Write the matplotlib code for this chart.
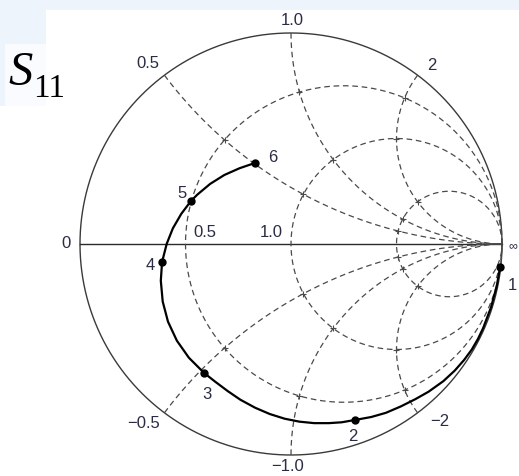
import numpy as np
import matplotlib
matplotlib.use('Agg')
import matplotlib.pyplot as plt
from matplotlib.patches import Rectangle

# 画布尺寸(像素)与圆图位置
W, H = 519, 477
CX, CY, R = 291, 245, 211

# 圆图网格: 电阻圆(与实轴左交点 Γ) 和 电抗弧
gamma_left_r = [-0.5, 0.0, 0.5]
r_labels = ['0.5', '1.0']
x_values = [0.5, 1.0, 2.0, -0.5, -1.0, -2.0]
x_labels = ['0.5', '1.0', '2', '\u22120.5', '\u22121.0', '\u22122']

# S11 轨迹(反射系数平面, 从图上读取, 从点1到点6)
s11_re = [0.991, 0.975, 0.948, 0.910, 0.886, 0.857, 0.820, 0.776, 0.722, 0.652,
          0.590, 0.520, 0.450, 0.380, 0.303, 0.240, 0.180, 0.110, 0.040, -0.030,
          -0.100, -0.170, -0.240, -0.300, -0.360, -0.412, -0.484, -0.541, -0.583,
          -0.608, -0.617, -0.611, -0.589, -0.560, -0.520, -0.474, -0.444, -0.383,
          -0.316, -0.244, -0.171]
s11_im = [-0.109, -0.200, -0.300, -0.400, -0.450, -0.500, -0.550, -0.600, -0.650,
          -0.700, -0.735, -0.770, -0.800, -0.820, -0.834, -0.845, -0.849, -0.849,
          -0.842, -0.828, -0.806, -0.776, -0.738, -0.697, -0.652, -0.611, -0.539,
          -0.458, -0.368, -0.273, -0.174, -0.085, 0.001, 0.074, 0.143, 0.204, 0.234,
          0.285, 0.327, 0.359, 0.384]
# 标记点 1..6
pt_names = ['1', '2', '3', '4', '5', '6']
pt_re = [0.991, 0.303, -0.412, -0.611, -0.474, -0.171]
pt_im = [-0.109, -0.834, -0.611, -0.085, 0.204, 0.384]


def px2g(px, py):
    return (px - CX) / R, (CY - py) / R


txt_color = '#2a2c44'
grid_color = '#4a4a4a'
dash = (0, (4.5, 3))

fig = plt.figure(figsize=(W / 100, H / 100), dpi=100)
fig.patch.set_facecolor('#edf4fb')

# 背景层
bg = fig.add_axes([0, 0, 1, 1], zorder=0)
bg.set_xlim(0, W)
bg.set_ylim(H, 0)
bg.axis('off')
bg.add_patch(Rectangle((46, 11), W - 46, H - 11, facecolor='white', edgecolor='none'))
bg.add_patch(Rectangle((0, 107), 46, H - 107, facecolor='white', edgecolor='none'))
bg.add_patch(Rectangle((5, 45), 41, 62, facecolor='#f9fbfe', edgecolor='none'))

ax = fig.add_axes([0, 0, 1, 1], zorder=1)
ax.set_xlim(-CX / R, (W - CX) / R)
ax.set_ylim((CY - H) / R, CY / R)
ax.set_aspect('equal')
ax.axis('off')
ax.patch.set_alpha(0)

# 外圆与实轴
t = np.linspace(0, 2 * np.pi, 600)
ax.plot(np.cos(t), np.sin(t), color='#3a3a3a', lw=1.0)
ax.plot([-1, 1], [0, 0], color='#2a2a2a', lw=1.0)

# 电阻圆
for gl in gamma_left_r:
    c = (gl + 1) / 2
    rr = (1 - gl) / 2
    ax.plot(c + rr * np.cos(t), rr * np.sin(t), color=grid_color, lw=0.9, ls=dash)

# 电抗弧
for xv in x_values:
    a = abs(xv)
    gu = ((a ** 2 - 1) / (a ** 2 + 1), 2 * a / (a ** 2 + 1))
    ang_u = np.arctan2(gu[1] - 1 / a, gu[0] - 1)
    if ang_u < 0:
        ang_u += 2 * np.pi
    th = np.linspace(ang_u, 1.5 * np.pi, 300)
    ax_ = 1 + np.cos(th) / a
    ay_ = 1 / a + np.sin(th) / a
    if xv < 0:
        ay_ = -ay_
    ax.plot(ax_, ay_, color=grid_color, lw=0.9, ls=dash)

# 网格交点处的小十字
for gl in gamma_left_r:
    rv = (1 + gl) / (1 - gl)
    for xv in x_values:
        z = complex(rv, xv)
        g = (z - 1) / (z + 1)
        ax.plot(g.real, g.imag, marker='+', ms=4.5, mew=0.8, color=grid_color)

# S11 曲线
ax.plot(s11_re, s11_im, color='black', lw=1.6, solid_capstyle='round',
        solid_joinstyle='round', zorder=5)
ax.plot(pt_re, pt_im, 'o', color='black', ms=5, zorder=6)

# 文字
def label(s, px, py, size=12, **kw):
    gx, gy = px2g(px, py)
    ax.text(gx, gy, s, fontsize=size, color=txt_color, ha='center', va='center',
            family='Liberation Sans', **kw)

label(x_labels[0], 148, 63)
label(x_labels[1], 292, 21)
label(x_labels[2], 432, 66)
label(x_labels[3], 144, 423)
label(x_labels[4], 288, 467)
label(x_labels[5], 440, 422)
label(r_labels[0], 205, 233)
label(r_labels[1], 271, 233)
label('0', 66, 244)
label('\u221e', 513, 246, size=9)

pt_lbl_px = [(512, 285), (353, 437), (207, 395), (150, 265), (182, 193), (273, 158)]
for name, (px, py) in zip(pt_names, pt_lbl_px):
    label(name, px, py)

# S11 标题
ax.text(8 / W, 1 - 85 / H, 'S', fontsize=35, style='italic', family='Liberation Serif',
        color='black', ha='left', va='baseline', transform=fig.transFigure)
ax.text(33 / W, 1 - 97 / H, '11', fontsize=24, family='Liberation Serif',
        color='black', ha='left', va='baseline', transform=fig.transFigure)

fig.savefig('out.png', dpi=100, facecolor=fig.get_facecolor())
